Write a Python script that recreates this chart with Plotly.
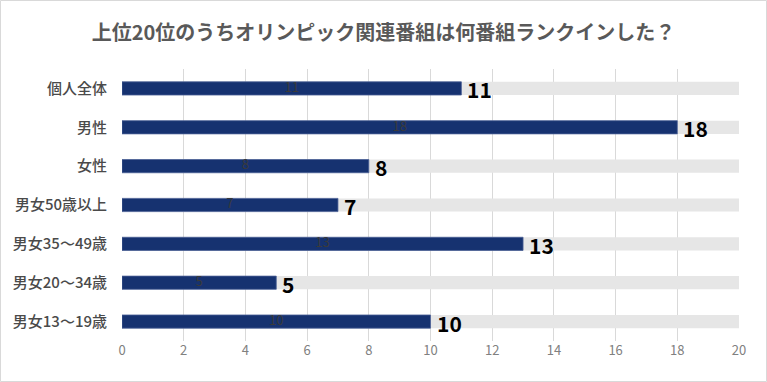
import plotly.graph_objects as go

title = "上位20位のうちオリンピック関連番組は何番組ランクインした？"
categories = ["個人全体", "男性", "女性", "男女50歳以上", "男女35～49歳", "男女20～34歳", "男女13～19歳"]
values = [11, 18, 8, 7, 13, 5, 10]
total = [20, 20, 20, 20, 20, 20, 20]
x_ticks = [0, 2, 4, 6, 8, 10, 12, 14, 16, 18, 20]

FONT = "Noto Sans CJK JP"

fig = go.Figure()
fig.add_trace(go.Bar(
    y=categories, x=total, orientation="h", width=0.34,
    marker=dict(color="#e6e6e6", line=dict(width=0)),
    hoverinfo="skip", showlegend=False,
))
fig.add_trace(go.Bar(
    y=categories, x=values, orientation="h", width=0.34,
    marker=dict(color="#163270", line=dict(color="#4a5f95", width=0.8)),
    textposition="none", showlegend=False,
))
# faint inner labels at bar centres
fig.add_trace(go.Scatter(
    y=categories, x=[v / 2 for v in values], mode="text",
    text=[str(v) for v in values], textposition="middle center",
    textfont=dict(family=FONT, size=13, color="#3a3a3a"),
    showlegend=False, hoverinfo="skip",
))

annotations = []
for c, v in zip(categories, values):
    annotations.append(dict(
        x=v, y=c, xref="x", yref="y", text=str(v), showarrow=False,
        xanchor="left", yanchor="middle", xshift=4, yshift=-1,
        font=dict(family=FONT, size=21, color="#000000", weight="bold"),
    ))

pw = 617.0
ph = 272.0
fig.update_layout(
    width=767, height=382,
    margin=dict(l=122, r=28, t=69, b=41, autoexpand=False),
    barmode="overlay",
    paper_bgcolor="white", plot_bgcolor="white",
    title=dict(text=title, x=0.5, xanchor="center", y=1 - 33 / 382, yanchor="middle",
               font=dict(family=FONT, size=20, color="#595959", weight="bold")),
    xaxis=dict(range=[0, 20], tickvals=x_ticks, showgrid=True, gridcolor="#d9d9d9",
               gridwidth=1, zeroline=False, showline=False, automargin=False,
               tickfont=dict(family=FONT, size=13, color="#808080"), ticks=""),
    yaxis=dict(autorange="reversed", showgrid=False, ticks="", ticklabelstandoff=14,
               automargin=False,
               tickfont=dict(family=FONT, size=15, color="#4a4a4a", weight=500)),
    font=dict(family=FONT),
    annotations=annotations,
    shapes=[dict(type="rect", xref="paper", yref="paper",
                 x0=-121.5 / pw, x1=(766.5 - 122) / pw,
                 y0=-(40.5) / ph, y1=(ph + 68.5) / ph,
                 line=dict(color="#d9d9d9", width=1), fillcolor="rgba(0,0,0,0)", layer="below")],
)

fig.write_html("out.html", config={"displayModeBar": False},
               post_script="document.body.style.margin='0';document.body.style.padding='0';")
